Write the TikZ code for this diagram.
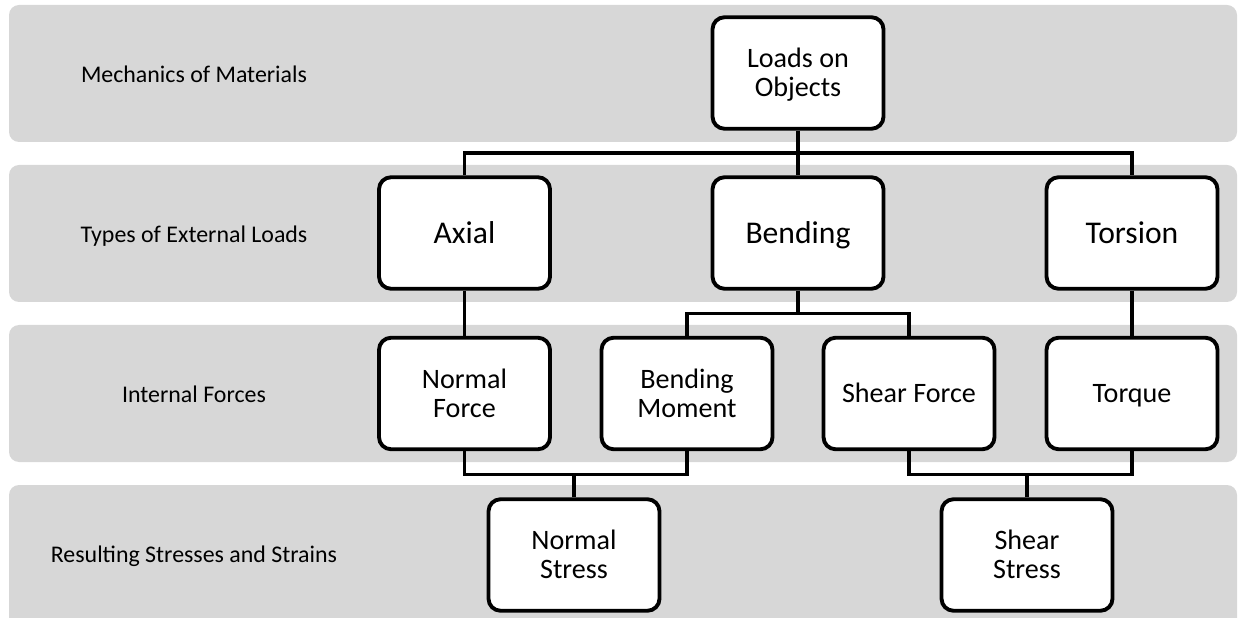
\documentclass[tikz,border=0pt]{standalone}
\usepackage{fontspec}
\setmainfont{Carlito}
\usetikzlibrary{calc}

\definecolor{bandgray}{RGB}{215,215,215}

\begin{document}
\begin{tikzpicture}[x=0.02cm, y=-0.02cm,
		band/.style={fill=bandgray, rounded corners=0.2cm},
		rowlabel/.style={font=\fontsize{13.6}{16}\selectfont, text height=8.8pt, text depth=0pt},
		box/.style={draw, line width=2.2pt, fill=white, rounded corners=0.24cm, minimum width=3.42cm, minimum height=2.23cm, align=center, font=\fontsize{16}{16.4}\selectfont, text height=10.4pt, text depth=0pt},
		twobox/.style={box, text height=26.8pt},
		bigbox/.style={box, font=\fontsize{18}{20}\selectfont, text height=11.7pt},
		wire/.style={line width=1.9pt}]
		\clip (0,0) rectangle (1238,618);
		
		\def\xl{9};
		\def\xr{1237};
		\def\xlab{194};
		
		\fill [band] (\xl,5) rectangle (\xr,142);
		\fill [band] (\xl,165) rectangle (\xr,302);
		\fill [band] (\xl,325) rectangle (\xr,462);
		\fill [band] (\xl,485) rectangle (\xr,640);
		
		\node [rowlabel] (lab1) at (\xlab,75) {Mechanics of Materials};
		\node [rowlabel] (lab2) at (\xlab,235) {Types of External Loads};
		\node [rowlabel] (lab3) at (\xlab,395) {Internal Forces};
		\node [rowlabel] (lab4) at (\xlab,555) {Resulting Stresses and Strains};
		
		\node [twobox] (loads) at (798,73) {Loads on\\Objects};
		
		\node [bigbox] (axial) at (464.5,233) {Axial};
		\node [bigbox] (bending) at (798,233) {Bending};
		\node [bigbox] (torsion) at (1132,233) {Torsion};
		
		\node [twobox] (normalf) at (464.5,393.5) {Normal\\Force};
		\node [twobox] (moment) at (687,393.5) {Bending\\Moment};
		\node [box] (shearf) at (909,393.5) {Shear Force};
		\node [box] (torque) at (1132,393.5) {Torque};
		
		\node [twobox] (normals) at (574,555) {Normal\\Stress};
		\node [twobox] (shears) at (1027,555) {Shear\\Stress};
		
		\coordinate (bus1) at ($(loads.south)!0.5!(bending.north)$);
		\coordinate (bus2) at ($(bending.south)!0.5!(bending.south |- moment.north)$);
		\coordinate (bus3) at ($(normalf.south)!0.5!(normalf.south |- normals.north)$);
		
		\draw [wire] (loads.south) -- (bending.north);
		\draw [wire] (axial.north) |- (bus1) -| (torsion.north);
		
		\draw [wire] (axial.south) -- (normalf.north);
		\draw [wire] (bending.south) -- (bus2);
		\draw [wire] (moment.north) |- (bus2) -| (shearf.north);
		\draw [wire] (torsion.south) -- (torque.north);
		
		\draw [wire] (normalf.south) |- (bus3) -| (moment.south);
		\draw [wire] (normals.north) -- (normals.north |- bus3);
		\draw [wire] (shearf.south) |- (shearf.south |- bus3) -| (torque.south);
		\draw [wire] (shears.north) -- (shears.north |- bus3);
	\end{tikzpicture}
\end{document}
